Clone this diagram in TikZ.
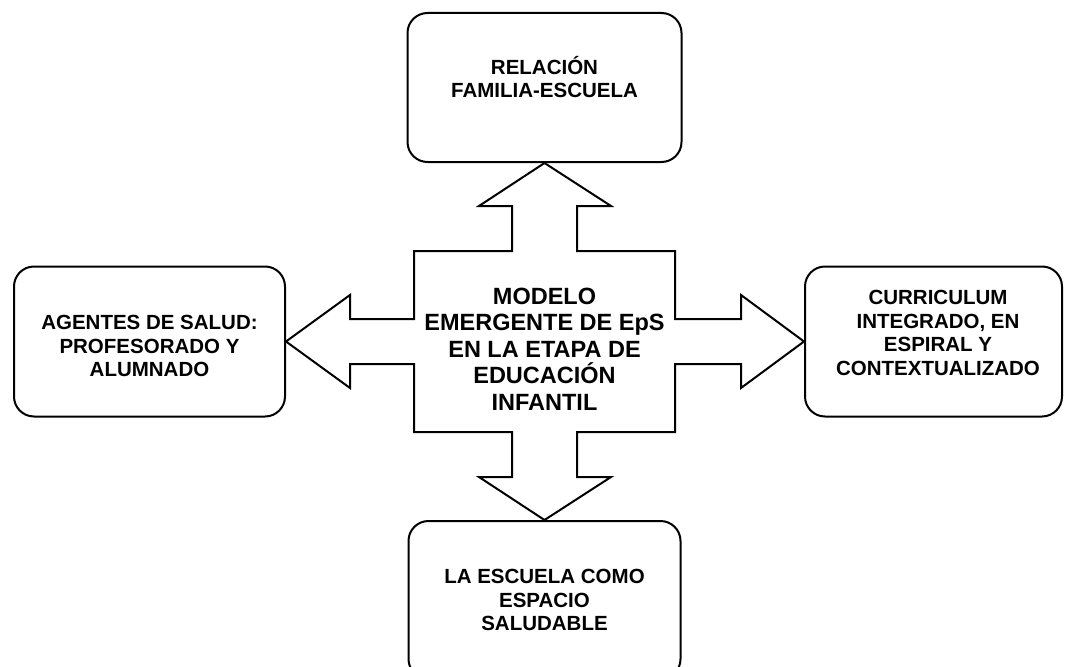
\documentclass[tikz,border=0pt]{standalone}
\usepackage{fontspec}
\setmainfont{Liberation Sans}
\begin{document}
\begin{tikzpicture}[x=1pt,y=-1pt,line width=2pt,
		caja/.style={draw,rounded corners=20pt,inner sep=0pt},
		txt/.style={align=center,font=\fontsize{20.5}{23.5}\selectfont\bfseries},
		txtc/.style={align=center,font=\fontsize{23.5}{26.5}\selectfont\bfseries}]
		\useasboundingbox (0,0) rectangle (1067,666);
		% cajas
		\node[caja,minimum width=274pt,minimum height=149pt] (top) at (544.5,87.5) {};
		\node[txt] (topt) at (544.5,77) {RELACIÓN\\FAMILIA-ESCUELA};
		\node[caja,minimum width=271pt,minimum height=150pt] (left) at (149.5,341.5) {};
		\node[txt] (leftt) at (149.5,346) {AGENTES DE SALUD:\\PROFESORADO Y\\ALUMNADO};
		\node[caja,minimum width=257pt,minimum height=150pt] (right) at (933.5,341.5) {};
		\node[txt] (rightt) at (938,333) {CURRICULUM\\INTEGRADO, EN\\ESPIRAL Y\\CONTEXTUALIZADO};
		\node[caja,minimum width=272pt,minimum height=158pt] (bot) at (544.5,600) {};
		\node[txt] (bott) at (544.5,600) {LA ESCUELA COMO\\ESPACIO\\SALUDABLE};
		% cruz central
		\draw[line join=miter] (top.south) -- (611,206) -- (577,206) -- (577,251) -- (675,251) -- (675,319)
			-- (741,319) -- (741,295) -- (right.west) -- (741,388) -- (741,364) -- (675,364)
			-- (675,432) -- (577,432) -- (577,477) -- (611,477) -- (bot.north) -- (479,477)
			-- (512,477) -- (512,432) -- (414,432) -- (414,364) -- (350,364) -- (350,388)
			-- (left.east) -- (350,295) -- (350,319) -- (414,319) -- (414,251) -- (512,251)
			-- (512,206) -- (479,206) -- cycle;
		\node[txtc] (mid) at (544.5,349) {MODELO\\EMERGENTE DE EpS\\EN LA ETAPA DE\\EDUCACIÓN\\INFANTIL};
\end{tikzpicture}
\end{document}
